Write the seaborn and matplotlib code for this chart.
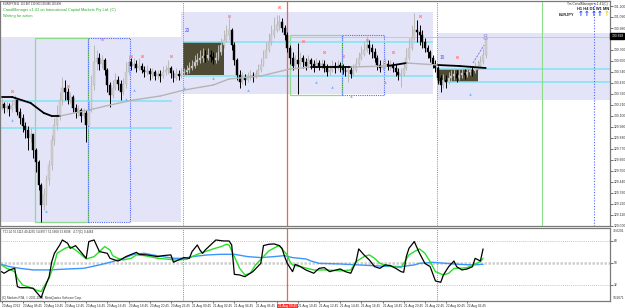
import numpy as np
import pandas as pd
import matplotlib
matplotlib.use("Agg")
import matplotlib.pyplot as plt
import matplotlib.transforms as mtransforms
from matplotlib.patches import Rectangle
import seaborn as sns

sns.set_theme(style="white")
plt.rcParams['font.family'] = ['Liberation Sans', 'DejaVu Sans']

# ---------------- data (EURJPY M15) ----------------
first_open = 130.18
closes = [130.22,130.18,130.20,130.17,130.21,130.26,130.14,130.08,130.00,129.96,
          129.88,129.92,129.76,129.64,129.41,129.21,129.31,129.46,129.61,129.86,
          130.01,130.11,130.26,130.38,130.34,130.26,130.29,130.18,130.14,130.16,
          130.10,130.13,130.01,130.16,130.41,130.64,130.68,130.62,130.66,130.56,
          130.41,130.31,130.38,130.46,130.42,130.34,130.42,130.54,130.64,130.60,
          130.62,130.58,130.60,130.56,130.54,130.55,130.52,130.54,130.50,130.52,
          130.50,130.54,130.56,130.58,130.53,130.48,130.52,130.50,130.53,130.54,
          130.56,130.58,130.60,130.64,130.66,130.68,130.70,130.68,130.71,130.69,
          130.66,130.68,130.74,130.81,130.86,130.91,130.96,130.81,130.66,130.51,
          130.44,130.48,130.46,130.48,130.50,130.49,130.52,130.56,130.61,130.68,
          130.76,130.84,130.91,130.96,131.01,131.04,130.98,130.91,130.78,130.68,
          130.60,130.66,130.62,130.68,130.64,130.60,130.66,130.62,130.59,130.63,
          130.60,130.62,130.58,130.54,130.56,130.60,130.58,130.61,130.59,130.56,
          130.54,130.56,130.52,130.56,130.62,130.68,130.72,130.76,130.81,130.78,
          130.74,130.68,130.61,130.58,130.60,130.62,130.60,130.61,130.58,130.54,
          130.51,130.52,130.58,130.68,130.78,130.88,130.96,130.94,130.91,130.84,
          130.78,130.74,130.68,130.62,130.58,130.48,130.41,130.46,130.44,130.48,
          130.50,130.52,130.48,130.51,130.53,130.51,130.54,130.56,130.55,130.58,
          130.60,130.64,130.71,130.89]
highs = [130.28,130.24,130.25,130.23,130.26,130.31,130.27,130.18,130.12,130.04,
         130.00,129.98,129.86,129.78,129.66,129.43,129.38,129.51,129.66,129.91,
         130.08,130.21,130.34,130.49,130.46,130.38,130.34,130.31,130.22,130.21,
         130.18,130.18,130.16,130.26,130.51,130.81,130.76,130.73,130.71,130.68,
         130.58,130.44,130.46,130.53,130.50,130.46,130.48,130.64,130.71,130.68,
         130.68,130.66,130.68,130.63,130.60,130.61,130.58,130.58,130.56,130.56,
         130.56,130.60,130.61,130.66,130.60,130.56,130.58,130.56,130.58,130.58,
         130.61,130.64,130.66,130.71,130.73,130.76,130.78,130.76,130.78,130.76,
         130.74,130.74,130.81,130.88,130.96,131.01,131.08,130.98,130.84,130.68,
         130.56,130.54,130.52,130.54,130.56,130.54,130.56,130.62,130.68,130.76,
         130.84,130.93,131.01,131.09,131.11,131.11,131.08,131.01,130.94,130.81,
         130.74,130.71,130.83,130.74,130.71,130.68,130.71,130.68,130.66,130.68,
         130.66,130.67,130.66,130.62,130.61,130.66,130.64,130.66,130.64,130.62,
         130.60,130.61,130.59,130.62,130.68,130.74,130.80,130.84,130.90,130.86,
         130.82,130.78,130.71,130.66,130.66,130.68,130.66,130.66,130.64,130.62,
         130.58,130.58,130.64,130.78,130.88,131.01,131.13,131.06,131.01,130.96,
         130.88,130.81,130.76,130.71,130.66,130.60,130.51,130.52,130.51,130.54,
         130.56,130.58,130.56,130.57,130.58,130.57,130.59,130.61,130.60,130.64,
         130.66,130.70,130.78,130.90]
lows = [130.16,130.13,130.14,130.10,130.14,130.18,130.11,130.02,129.94,129.88,
        129.76,129.84,129.68,129.54,129.36,129.04,129.16,129.21,129.41,129.56,
        129.81,129.96,130.06,130.21,130.26,130.22,130.23,130.14,130.08,130.10,
        130.04,130.08,129.84,130.00,130.14,130.36,130.56,130.56,130.58,130.51,
        130.34,130.19,130.28,130.36,130.36,130.26,130.31,130.38,130.51,130.56,
        130.57,130.54,130.56,130.53,130.49,130.51,130.46,130.48,130.46,130.47,
        130.44,130.48,130.51,130.52,130.48,130.44,130.46,130.46,130.48,130.50,
        130.52,130.53,130.56,130.58,130.61,130.63,130.64,130.64,130.66,130.64,
        130.62,130.63,130.66,130.71,130.78,130.84,130.86,130.76,130.61,130.46,
        130.38,130.42,130.41,130.44,130.46,130.44,130.48,130.50,130.54,130.60,
        130.68,130.74,130.81,130.88,130.94,130.96,130.94,130.86,130.74,130.62,
        130.56,130.58,130.32,130.60,130.58,130.56,130.58,130.57,130.54,130.58,
        130.56,130.57,130.54,130.50,130.51,130.54,130.53,130.56,130.54,130.52,
        130.50,130.44,130.48,130.50,130.54,130.60,130.66,130.70,130.74,130.72,
        130.68,130.64,130.56,130.54,130.56,130.58,130.56,130.56,130.54,130.50,
        130.46,130.39,130.50,130.56,130.66,130.76,130.86,130.84,130.81,130.78,
        130.74,130.68,130.64,130.58,130.54,130.42,130.34,130.38,130.38,130.42,
        130.44,130.46,130.44,130.46,130.48,130.47,130.49,130.51,130.50,130.53,
        130.56,130.58,130.62,130.68]
current_price = 130.898

# moving average (sampled) and its colour state per segment
ma_idx = [0, 4, 11, 16, 19, 22, 33, 41, 50, 60, 69, 80, 86, 98, 109, 117, 132, 146, 153, 165, 173, 183]
ma_val = [130.29, 130.29, 130.23, 130.13, 130.10, 130.10, 130.16, 130.21, 130.26, 130.30, 130.36,
          130.41, 130.47, 130.50, 130.57, 130.59, 130.59, 130.60, 130.63, 130.61, 130.60, 130.58]
ma_state = ['dn', 'dn', 'dn', 'dn', 'dn', 'up', 'up', 'up', 'up', 'up', 'up', 'up', 'up', 'up', 'up',
            'dn', 'up', 'dn', 'up', 'dn', 'dn', 'dn']

# fractal markers
frac_hi_bar = [4, 25, 38, 49, 53, 64, 86, 105, 114, 122, 129, 138, 148, 158, 172]
frac_hi_val = [130.35, 130.40, 130.87, 130.70, 130.70, 130.70, 131.10, 131.19, 130.85, 130.74,
               130.70, 130.86, 130.74, 131.10, 130.69]
frac_lo_bar = [4, 17, 33, 47, 50, 69, 80, 93, 119, 125, 132, 145, 177]
frac_lo_val = [130.06, 129.15, 130.17, 130.27, 130.36, 130.38, 130.48, 130.36, 130.44, 130.39,
               130.30, 130.44, 130.32]

# channel zones
zone_x0 = [-0.6, 67.8, 164.6]
zone_x1 = [67.8, 163.1, 230.0]
zone_top = [130.89, 131.14, 130.93]
zone_bot = [129.04, 130.32, 130.26]
olive_x0 = [68.6, 164.6]
olive_x1 = [84.1, 180.1]
olive_top = [130.84, 130.57]
olive_bot = [130.51, 130.44]
chan_x0 = [-0.6, -0.6, 68.6, 68.6, 164.6, 164.6]
chan_x1 = [64.4, 64.4, 163.1, 163.1, 230.0, 230.0]
chan_lvl = [130.25, 129.98, 130.84, 130.50, 130.57, 130.44]
green_x0 = [12.7, 109.0]
green_x1 = [32.7, 128.7]
blue_x0 = [32.7, 128.7]
blue_x1 = [48.6, 144.6]
box_top = [130.88, 130.91]
box_bot = [129.04, 130.31]
green_vline = 204.3
blue_vline = 223.9
day_start_bars = [69, 165]
red_vline_bar = 108

# TCI oscillator (sampled)
fast_idx = [0,1,3,5,6,7,10,12,13,15,16,18,19,20,22,23,25,26,28,32,33,35,37,40,41,44,45,47,51,52,
            55,59,61,64,65,66,69,71,72,74,75,76,77,79,81,84,86,87,88,90,92,93,95,98,99,101,103,105,
            106,107,108,110,111,113,115,118,120,122,124,125,128,130,132,134,135,137,139,141,143,145,
            147,149,151,152,153,154,156,158,160,162,164,166,167,169,171,172,174,176,178,179,181,182]
fast_val = [42.9,41.6,44.3,45.6,30.7,29.8,29.8,29.3,26.6,21.6,27.9,38.8,51.1,57.9,64.7,68.8,66.1,
            62.0,64.2,53.8,67.5,68.8,59.3,57.9,53.8,51.6,52.5,55.2,58.7,57.1,56.6,55.2,56.0,56.6,
            50.6,51.6,54.4,53.8,59.3,64.7,60.6,57.9,60.6,64.7,68.8,68.0,68.0,64.7,40.7,40.2,38.8,
            40.2,42.9,49.7,64.2,65.3,65.6,64.2,62.0,55.2,49.7,42.9,48.9,47.0,44.3,41.6,45.6,46.2,
            42.9,43.5,45.1,42.9,41.6,51.1,61.5,56.6,52.5,47.0,45.6,48.4,47.8,45.6,42.9,42.4,55.2,
            62.0,67.5,57.9,49.7,47.0,35.3,34.2,40.2,47.0,51.6,47.0,44.3,45.1,47.0,53.8,51.6,61.5]
sig_idx = [0,2,5,6,8,11,13,15,16,18,20,21,24,26,28,31,32,35,37,39,41,42,44,46,49,51,54,56,59,62,
           65,67,70,72,75,77,80,83,85,86,88,90,92,94,96,99,101,104,105,106,108,109,110,113,118,123,
           128,132,134,137,139,141,143,146,148,151,152,154,156,158,160,162,164,167,169,171,173,176,
           178,181,182]
sig_val = [48.4,45.6,42.9,37.5,32.0,29.8,27.9,26.6,30.7,37.5,49.7,57.9,62.0,63.4,60.6,55.2,53.3,
           55.2,59.3,63.4,60.6,56.0,53.8,52.5,53.8,56.6,56.0,55.2,53.8,53.3,52.5,52.5,53.0,55.2,
           57.9,59.3,61.5,63.4,65.3,64.7,55.2,45.6,40.2,41.6,48.4,55.2,59.8,63.4,64.2,61.5,56.6,
           51.1,48.4,47.0,44.3,44.3,43.5,44.3,51.1,55.2,56.6,53.8,49.7,47.8,47.0,46.2,49.7,56.6,
           59.3,61.5,57.9,51.1,42.9,40.2,41.6,45.6,45.6,46.2,48.4,51.1,53.8]
slow_idx = [0,3,7,12,18,25,31,37,42,46,50,54,57,61,65,69,72,78,83,88,93,98,103,107,110,115,117,
            120,128,135,143,151,156,158,163,168,173,178,182]
slow_val = [48.9,47.0,45.6,44.3,44.3,45.1,45.6,48.4,51.1,53.8,57.1,57.9,56.6,55.2,53.8,53.8,55.2,
            56.6,57.1,57.1,55.2,54.4,55.2,56.0,54.4,53.3,51.6,49.7,49.2,48.4,47.5,47.0,48.4,49.7,
            50.5,49.7,48.9,48.4,48.9]
osc_levels = [32, 50, 68]

price_ticks = [129.00, 129.11, 129.22, 129.33, 129.44, 129.55, 129.66, 129.77, 129.88, 129.99, 130.10,
               130.21, 130.32, 130.43, 130.54, 130.65, 130.76, 130.87, 130.98, 131.09, 131.20]
time_tick_bars = [0, 8, 16, 24, 32, 40, 48, 56, 64, 72, 80, 88, 96, 104, 112, 120, 128, 136, 144,
                  152, 160, 168, 176]
time_labels = ["20 Aug 2013", "20 Aug 08:45", "20 Aug 10:45", "20 Aug 12:45", "20 Aug 14:45",
               "20 Aug 16:45", "20 Aug 18:45", "20 Aug 20:45", "20 Aug 22:45", "21 Aug 00:45",
               "21 Aug 02:45", "21 Aug 04:45", "21 Aug 06:45", "21 Aug 08:45", "21 Aug 10:45",
               "21 Aug 12:45", "21 Aug 14:45", "21 Aug 16:45", "21 Aug 18:45", "21 Aug 20:45",
               "21 Aug 22:45", "22 Aug 00:45", "22 Aug 02:45"]
red_time_label = "21 Aug 09:45"

# ---------------- figure ----------------
W, H = 625, 308
fig = plt.figure(figsize=(W / 100, H / 100), dpi=100)
fig.patch.set_facecolor("white")


def pbox(x0, y0, x1, y1):
    return [x0 / W, 1 - y1 / H, (x1 - x0) / W, (y1 - y0) / H]


def ftxt(x, y, s, **kw):
    kw.setdefault("va", "center")
    fig.text(x / W, 1 - y / H, s, **kw)


ax = fig.add_axes(pbox(0, 1, 610, 226))
ax2 = fig.add_axes(pbox(0, 228, 610, 301), sharex=ax)
XL = (-0.567, 229.97)
ax.set_xlim(*XL)
ax.set_ylim(129.00, 131.25)
ax2.set_ylim(18.9, 78.6)
for a in (ax, ax2):
    a.set_facecolor("white")
    a.grid(False)
    for s in a.spines.values():
        s.set_color("#7a7a7a")
        s.set_linewidth(0.9)

# zones
lav = "#e4e4f8"
for x0, x1, t, b in zip(zone_x0, zone_x1, zone_top, zone_bot):
    ax.add_patch(Rectangle((x0, b), x1 - x0, t - b, facecolor=lav, edgecolor="none", zorder=0))
for x0, x1, t, b in zip(olive_x0, olive_x1, olive_top, olive_bot):
    ax.add_patch(Rectangle((x0, b), x1 - x0, t - b, facecolor="#4f4a34", edgecolor="none", zorder=1))
for x0, x1, t, b in zip(green_x0, green_x1, box_top, box_bot):
    ax.add_patch(Rectangle((x0, b), x1 - x0, t - b, facecolor="none", edgecolor="#8cdc8c", lw=0.9, zorder=2))
for x0, x1, t, b in zip(blue_x0, blue_x1, box_top, box_bot):
    ax.add_patch(Rectangle((x0, b), x1 - x0, t - b, facecolor="none", edgecolor="#5068ff", lw=0.8,
                           linestyle=(0, (1, 1)), zorder=2))
for x0, x1, lv in zip(chan_x0, chan_x1, chan_lvl):
    ax.hlines(lv, x0, x1, color="#7fe3f2", lw=1.1, zorder=2)
ax.hlines(130.89, 109, 230, color="#cfc4d4", lw=0.7, zorder=1)

# vertical markers
for a in (ax, ax2):
    for d in day_start_bars:
        a.axvline(d - 0.5, color="#8c8c8c", lw=0.7, linestyle=(0, (1, 1.2)), zorder=2)
    a.axvline(red_vline_bar, color="#ff5a5a", lw=0.9, zorder=2)
ax.axvline(green_vline, color="#8cdc8c", lw=0.8, zorder=2)
ax.axvline(blue_vline, color="#5068ff", lw=0.8, linestyle=(0, (1, 1.5)), zorder=2)

# candles
o = np.array([first_open] + closes[:-1])
c = np.array(closes)
hi = np.array(highs)
lo = np.array(lows)
bars = np.arange(len(c))
up = c >= o
body_lo = np.minimum(o, c)
body_h = np.maximum(np.abs(c - o), 0.006)
ax.vlines(bars[up], lo[up], hi[up], color="#b9b9b9", lw=0.7, zorder=3)
ax.vlines(bars[~up], lo[~up], hi[~up], color="black", lw=0.7, zorder=3)
ax.bar(bars[up], body_h[up], bottom=body_lo[up], width=0.72, color="#cfcfcf", edgecolor="#b5b5b5",
       linewidth=0.3, zorder=4)
ax.bar(bars[~up], body_h[~up], bottom=body_lo[~up], width=0.72, color="black", edgecolor="black",
       linewidth=0.3, zorder=4)

# moving average
for k in range(len(ma_idx) - 1):
    seg = pd.DataFrame({"bar": ma_idx[k:k + 2], "price": ma_val[k:k + 2]})
    col = "black" if ma_state[k] == "dn" else "#b4b4b4"
    sns.lineplot(data=seg, x="bar", y="price", ax=ax, color=col,
                 lw=1.3 if col == "black" else 1.0, zorder=5, legend=False)

# fractals
ax.plot(frac_hi_bar, frac_hi_val, linestyle="none", marker="x", ms=1.7, mew=0.7, color="#ff8080", zorder=6)
ax.plot(frac_lo_bar, frac_lo_val, linestyle="none", marker="^", ms=1.8, mew=0, color="#6ab0ff", zorder=6)

# annotations in chart
ax.text(69.3, 130.95, "20", color="#4a4aff", fontsize=3.4, ha="left", va="center", zorder=7)
ax.text(165.7, 130.68, "10", color="#4a4aff", fontsize=3.4, ha="left", va="center", zorder=7)
ax.plot([178.2, 182.4], [130.63, 130.81], color="#8a8ae6", lw=0.8, linestyle=(0, (2, 1)), zorder=6)
ax.text(182.8, 130.88, "8", color="#9a9ae8", fontsize=6.5, ha="center", va="center", zorder=7)

# price axis
ax.yaxis.tick_right()
ax.set_yticks(price_ticks)
ax.set_yticklabels([f"{v:.3f}" for v in price_ticks])
ax.tick_params(axis="y", which="both", right=True, left=False, length=2, width=0.5, pad=1,
               labelsize=2.4, colors="#333333")
ax.tick_params(axis="x", bottom=False, labelbottom=False)
ax.set_xlabel("")
ax.set_ylabel("")
bt = mtransforms.blended_transform_factory(ax.transAxes, ax.transData)
ax.text(1.002, current_price, f"{current_price:.3f}", transform=bt, fontsize=2.4, color="white",
        ha="left", va="center", bbox=dict(boxstyle="square,pad=0.25", fc="black", ec="black"), zorder=8)

# oscillator panel
for lv in osc_levels:
    if lv == 50:
        ax2.axhline(lv, color="#cfcfcf", lw=1.8, linestyle=(0, (1, 0.6)), zorder=1)
    else:
        ax2.axhline(lv, color="#b0b0b0", lw=0.6, linestyle=(0, (1, 1.5)), zorder=1)
sns.lineplot(x=slow_idx, y=slow_val, ax=ax2, color="#3a96ff", lw=1.0, zorder=3, legend=False)
sns.lineplot(x=sig_idx, y=sig_val, ax=ax2, color="#28e028", lw=1.0, zorder=4, legend=False)
sns.lineplot(x=fast_idx, y=fast_val, ax=ax2, color="black", lw=0.9, zorder=5, legend=False)
ax2.set_xlim(*XL)
ax2.yaxis.tick_right()
ax2.set_yticks(osc_levels)
ax2.set_yticklabels([str(v) for v in osc_levels])
ax2.tick_params(axis="y", right=True, left=False, length=2, width=0.5, pad=1, labelsize=2.4,
                colors="#333333")
ax2.set_xticks(time_tick_bars)
ax2.set_xticklabels(time_labels, ha="left")
ax2.tick_params(axis="x", bottom=True, length=1.5, width=0.5, pad=1, labelsize=2.3, colors="#333333")
ax2.set_xlabel("")
ax2.set_ylabel("")
bt2 = mtransforms.blended_transform_factory(ax2.transData, ax2.transAxes)
ax2.text(red_vline_bar, -0.075, red_time_label, transform=bt2, fontsize=2.3, color="white",
         ha="center", va="center", bbox=dict(boxstyle="square,pad=0.25", fc="#ff3030", ec="none"), zorder=9,
         clip_on=False)
ax2.text(1.004, 0.985, "78.6201", transform=ax2.transAxes, fontsize=2.3, color="#333333", va="top")
ax2.text(1.004, 0.01, "18.9071", transform=ax2.transAxes, fontsize=2.3, color="#333333", va="bottom")
ax2.text(0.005, 0.94, "TCI 14 70.5113 49.4255 54.8977 51.5668 53.6698   4.77(C) 0.4464",
         transform=ax2.transAxes, fontsize=2.2, color="#333333", va="center")
ax2.text(0.004, 0.04, "(C) Markets RTA, \u00a9 2001-2013, MetaQuotes Software Corp.",
         transform=ax2.transAxes, fontsize=2.2, color="#333333", va="center")

# header texts
ftxt(3, 3.5, "EURJPY,M15  130.887 130.903 130.886 130.898", fontsize=1.9, color="#222222")
ftxt(3, 10, "CanalManager v1.41 on International Capital Markets Pty Ltd. (C)", fontsize=2.8,
     color="#2aa82a")
ftxt(3, 16, "Waiting for action", fontsize=2.8, color="#2aa82a")
ftxt(608, 3.5, "Trs CanalManager v.1.41(C)", fontsize=2.3, color="#333333", ha="right")
ftxt(609, 8.5, "H1 H4 D1 W1 MN", fontsize=2.9, color="#222222", ha="right", fontweight="bold")
ftxt(559, 14.5, "EURJPY", fontsize=2.8, color="#222222", ha="left", fontweight="bold")
for xa, col in zip([580.5, 587, 593.5, 600, 606.5], ["#1f3cff", "#1f3cff", "#1f3cff", "#1f3cff", "#ffcc00"]):
    ftxt(xa, 14.5, "\u2191", fontsize=5, color=col, ha="center", fontweight="bold",
         family="DejaVu Sans")

fig.savefig("out.png", dpi=100, facecolor="white")
